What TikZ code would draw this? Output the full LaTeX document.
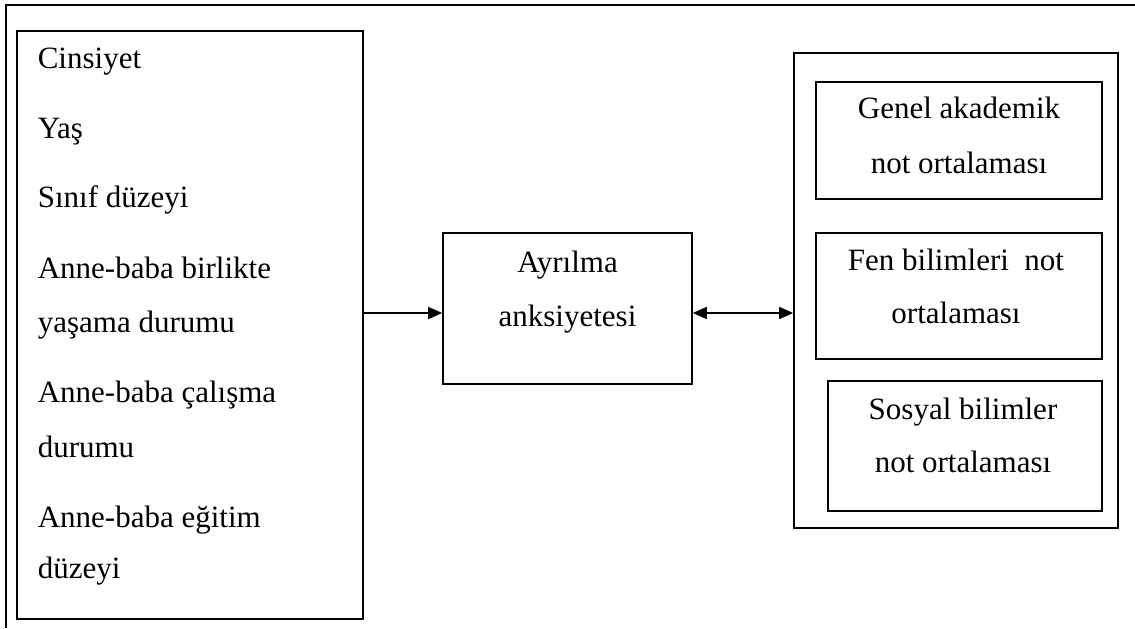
\documentclass[tikz,border=0pt]{standalone}
\usepackage{fontspec}
\setmainfont{Liberation Serif}
\usetikzlibrary{arrows.meta}
\tikzset{
  box/.style={draw, line width=0.8pt, inner sep=0pt},
  txt/.style={font=\fontsize{15.5}{27}\selectfont, inner sep=0pt},
}

\begin{document}
\begin{tikzpicture}[x=0.5pt, y=-0.5pt, >={Triangle[length=7pt,width=6pt]}, line width=0.8pt]
    \useasboundingbox (0,0) rectangle (1135,628);
    \draw (6,628) -- (6,5) -- (1135,5);
    \node[box, minimum width=173pt, minimum height=294pt] (factors) at (190,325) {};
    \foreach \y/\t [count=\i] in {68/Cinsiyet, 138/Yaş, 207/Sınıf düzeyi, 278/Anne-baba birlikte, 332/yaşama durumu, 402/Anne-baba çalışma, 457/durumu, 527/Anne-baba eğitim, 578/düzeyi}
        \node[txt, anchor=base west] (f\i) at (37,\y) {\t};
    \node[box, minimum width=124.5pt, minimum height=75.5pt] (anxiety) at (567.5,308.5) {};
    \node[txt, anchor=base] (anx1) at (567.5,272) {Ayrılma};
    \node[txt, anchor=base] (anx2) at (567.5,326) {anksiyetesi};
    \node[box, minimum width=162pt, minimum height=237.5pt] (outcomes) at (956,290.5) {};
    \node[box, minimum width=143pt, minimum height=58.5pt] (gpa) at (959,140.5) {};
    \node[txt, anchor=base] (gpa1) at (959,118) {Genel akademik};
    \node[txt, anchor=base] (gpa2) at (959,173) {not ortalaması};
    \node[box, minimum width=143pt, minimum height=63pt] (science) at (959,296) {};
    \node[txt, anchor=base] (sci1) at (956,270) {Fen bilimleri\ \ not};
    \node[txt, anchor=base] (sci2) at (956,323) {ortalaması};
    \node[box, minimum width=137pt, minimum height=65pt] (social) at (965,446) {};
    \node[txt, anchor=base] (soc1) at (963,419) {Sosyal bilimler};
    \node[txt, anchor=base] (soc2) at (963,472) {not ortalaması};
    \coordinate (mid) at (0,313);
    \draw[->] (factors.east |- mid) -- (anxiety.west |- mid);
    \draw[<->] (anxiety.east |- mid) -- (outcomes.west |- mid);
\end{tikzpicture}
\end{document}
